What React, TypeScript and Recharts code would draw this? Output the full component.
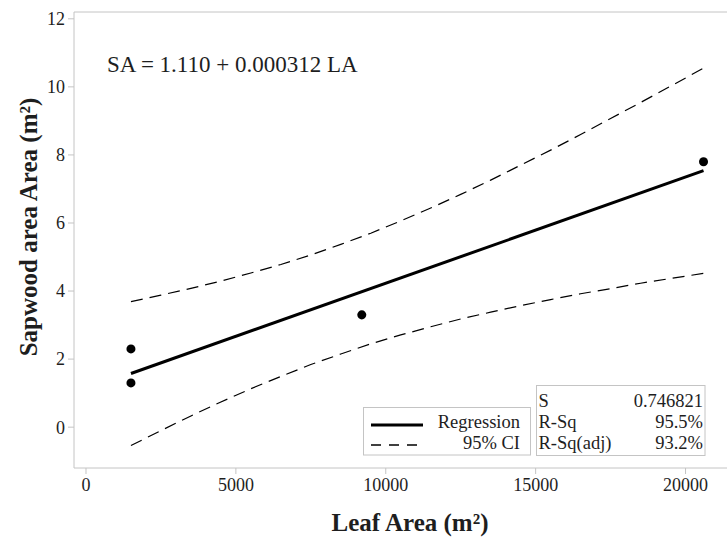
import { ComposedChart, XAxis, YAxis, Line, Scatter, ReferenceArea } from 'recharts';

// 95% confidence band
const ciX = [1500, 2500, 3500, 4500, 5500, 6500, 7500, 8500, 9500, 10500, 11500, 12500, 13500, 14500, 15500, 16500, 17500, 18500, 19500, 20600];
const ciUpper = [3.69, 3.88, 4.08, 4.29, 4.53, 4.78, 5.06, 5.37, 5.70, 6.06, 6.44, 6.84, 7.26, 7.70, 8.14, 8.60, 9.07, 9.54, 10.02, 10.55];
const ciLower = [-0.54, -0.10, 0.33, 0.74, 1.13, 1.49, 1.84, 2.15, 2.45, 2.71, 2.95, 3.18, 3.38, 3.57, 3.75, 3.92, 4.07, 4.23, 4.37, 4.52];

// observations
const pointX = [1500, 1500, 9200, 20600];
const pointY = [2.3, 1.3, 3.3, 7.8];

// fitted regression line ends
const fitX = [1500, 20600];
const fitY = [1.578, 7.537];

const xTicks = [0, 5000, 10000, 15000, 20000];
const yTicks = [0, 2, 4, 6, 8, 10, 12];

const equation = 'SA = 1.110 + 0.000312 LA';
const legendLabels = ['Regression', '95% CI'];
const statNames = ['S', 'R-Sq', 'R-Sq(adj)'];
const statValues = ['0.746821', '95.5%', '93.2%'];

const FONT = 'Liberation Serif';
const TEXT = '#1e1e1e';
const FRAME = '#c4c4c4';

export default function App() {
  const ciData = ciX.map((x, i) => ({ x, upper: ciUpper[i], lower: ciLower[i] }));
  const pointData = pointX.map((x, i) => ({ x, y: pointY[i] }));
  const fitData = fitX.map((x, i) => ({ x, fit: fitY[i] }));

  return (
    <div style={{ position: 'absolute', left: 0, top: 0, width: 727, height: 537, overflow: 'hidden', background: '#fff' }}>
      <ComposedChart width={740} height={537} margin={{ top: 12, right: 5, bottom: 0, left: 0 }}>
        <XAxis
          type="number"
          dataKey="x"
          domain={[-400, 21650]}
          ticks={xTicks}
          allowDataOverflow
          height={69}
          axisLine={false}
          tickLine={{ stroke: FRAME }}
          tickSize={6}
          tickMargin={4}
          tick={{ fill: TEXT, fontSize: 18, fontFamily: FONT }}
        />
        <YAxis
          type="number"
          domain={[-1.2, 12.2]}
          ticks={yTicks}
          allowDataOverflow
          width={74}
          axisLine={false}
          tickLine={{ stroke: FRAME }}
          tickSize={6}
          tickMargin={3}
          tick={{ fill: TEXT, fontSize: 18, fontFamily: FONT }}
        />
        <ReferenceArea x1={-400} x2={21650} y1={-1.2} y2={12.2} fill="none" stroke={FRAME} strokeWidth={1} />
        <Line data={ciData} dataKey="upper" type="linear" stroke="#000" strokeWidth={1.2} strokeDasharray="12 7" dot={false} activeDot={false} isAnimationActive={false} />
        <Line data={ciData} dataKey="lower" type="linear" stroke="#000" strokeWidth={1.2} strokeDasharray="12 7" dot={false} activeDot={false} isAnimationActive={false} />
        <Line data={fitData} dataKey="fit" type="linear" stroke="#000" strokeWidth={3} dot={false} activeDot={false} isAnimationActive={false} />
        <Scatter data={pointData} dataKey="y" fill="#000" isAnimationActive={false} />
      </ComposedChart>

      {/* annotations, legend and stats table */}
      <svg width={727} height={537} style={{ position: 'absolute', left: 0, top: 0, pointerEvents: 'none' }}>
        <g fontFamily={FONT} fill={TEXT}>
          <text x={107} y={72} fontSize={23}>{equation}</text>

          <text x={410} y={531} fontSize={25} fontWeight="bold" textAnchor="middle">Leaf Area (m²)</text>
          <text x={36.5} y={227} fontSize={25} fontWeight="bold" textAnchor="middle" transform="rotate(-90, 36.5, 227)">Sapwood area Area (m²)</text>

          <rect x={363.5} y={407.5} width={167} height={47.5} fill="#fff" stroke={FRAME} />
          <line x1={371} x2={423} y1={425} y2={425} stroke="#000" strokeWidth={3} />
          <line x1={371} x2={423} y1={445} y2={445} stroke="#000" strokeWidth={1.3} strokeDasharray="10 8" />
          <text x={520} y={428} fontSize={18.5} textAnchor="end">{legendLabels[0]}</text>
          <text x={520} y={449} fontSize={18.5} textAnchor="end">{legendLabels[1]}</text>

          <rect x={536.5} y={385.5} width={168.5} height={70} fill="#fff" stroke={FRAME} />
          {statNames.map((n, i) => (
            <text key={n} x={538.5} y={407 + i * 21} fontSize={18.5}>{n}</text>
          ))}
          {statValues.map((v, i) => (
            <text key={v} x={703} y={407 + i * 21} fontSize={18.5} textAnchor="end">{v}</text>
          ))}
        </g>
      </svg>
    </div>
  );
}
